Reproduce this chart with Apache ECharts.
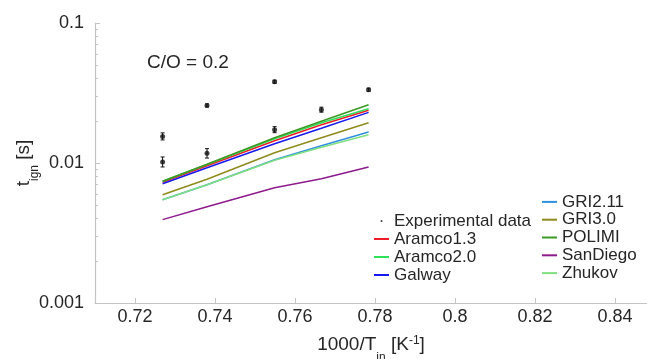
<!DOCTYPE html>
<html>
<head>
<meta charset="utf-8">
<script src="https://cdn.jsdelivr.net/npm/echarts@6/dist/echarts.min.js"></script>
<style>
  html, body { margin: 0; padding: 0; background: #fff; }
  #chart { width: 647px; height: 359px; }
</style>
</head>
<body>
<div id="chart"></div>
<script>
// inlet temperatures 1000/T (K^-1) shared by all model curves
var xVals = [0.7269, 0.7380, 0.7549, 0.7666, 0.7784];

// ignition delay (s) per mechanism
var aramco13 = [0.00729, 0.00957, 0.01443, 0.01877, 0.02383];
var aramco20 = [0.00741, 0.00973, 0.01491, 0.01940, 0.02443];
var galway   = [0.00711, 0.00926, 0.01374, 0.01772, 0.02298];
var gri211   = [0.00547, 0.00700, 0.01056, 0.01329, 0.01665];
var gri30    = [0.00594, 0.00766, 0.01185, 0.01516, 0.01940];
var polimi   = [0.00741, 0.00980, 0.01516, 0.01989, 0.02609];
var sandiego = [0.00394, 0.00487, 0.00666, 0.00773, 0.00936];
var zhukov   = [0.00547, 0.00700, 0.01047, 0.01297, 0.01592];

// experiments
var expX  = [0.7269, 0.7269, 0.7380, 0.7380, 0.7549, 0.7549, 0.7666, 0.7784];
var expY  = [0.01549, 0.01017, 0.02579, 0.01172, 0.0381, 0.0173, 0.02404, 0.0334];
var expLo = [0.01462, 0.00937, 0.02516, 0.01085, 0.03717, 0.01647, 0.02307, 0.03259];
var expHi = [0.01641, 0.01104, 0.02643, 0.01266, 0.03905, 0.01818, 0.02505, 0.03424];

var xTicks = [0.72, 0.74, 0.76, 0.78, 0.8, 0.82, 0.84];
var yTicks = [0.001, 0.01, 0.1];
var yMinorTicks = [0.002, 0.003, 0.004, 0.005, 0.006, 0.007, 0.008, 0.009,
                   0.02, 0.03, 0.04, 0.05, 0.06, 0.07, 0.08, 0.09];

var font = 'Liberation Sans, Arial, Helvetica, sans-serif';
var txt = '#262626';
var axisGray = '#c4c4c4';

function pairs(ys) {
  return xVals.map(function (x, i) { return [x, ys[i]]; });
}

function model(name, ys, color) {
  return {
    name: name,
    type: 'line',
    data: pairs(ys),
    showSymbol: false,
    symbol: 'none',
    lineStyle: { color: color, width: 1.5 },
    itemStyle: { color: color },
    z: 3
  };
}

var legendBase = {
  orient: 'vertical',
  padding: 0,
  itemGap: 0,
  itemWidth: 15,
  itemHeight: 2,
  icon: 'rect',
  textStyle: { fontFamily: font, fontSize: 17, color: txt, lineHeight: 18 }
};

var option = {
  animation: false,
  title: {
    text: 'C/O = 0.2',
    left: 147,
    top: 53,
    padding: 0,
    textStyle: { fontFamily: font, fontSize: 19, fontWeight: 'normal', color: txt }
  },
  legend: [
    Object.assign({}, legendBase, {
      left: 374,
      top: 212,
      data: [
        { name: 'Experimental data', icon: 'circle' },
        'Aramco1.3', 'Aramco2.0', 'Galway'
      ]
    }),
    Object.assign({}, legendBase, {
      left: 542,
      top: 193,
      textStyle: { fontFamily: font, fontSize: 17, color: txt, lineHeight: 17.8 },
      data: ['GRI2.11', 'GRI3.0', 'POLIMI', 'SanDiego', 'Zhukov']
    })
  ],
  grid: {
    left: 95,
    right: 0,
    top: 23,
    bottom: 56,
    containLabel: false,
    outerBoundsMode: 'none'
  },
  xAxis: {
    type: 'value',
    min: 0.71,
    max: 0.848,
    name: '{a|1000/T}{sub|in}{a| [K}{sup|-1}{a|]}',
    nameLocation: 'middle',
    nameGap: 23,
    nameMoveOverlap: false,
    nameTextStyle: {
      fontFamily: font,
      color: txt,
      rich: {
        a: { fontFamily: font, fontSize: 19, color: txt, lineHeight: 38, verticalAlign: 'middle' },
        sub: { fontFamily: font, fontSize: 12, color: txt, lineHeight: 13, verticalAlign: 'bottom' },
        sup: { fontFamily: font, fontSize: 12, color: txt, lineHeight: 13, verticalAlign: 'top', padding: [9, 0, 0, 0] }
      }
    },
    axisLine: { lineStyle: { color: axisGray, width: 1.2 } },
    axisTick: { inside: true, length: 5, customValues: xTicks, lineStyle: { color: axisGray } },
    axisLabel: {
      customValues: xTicks,
      margin: 5,
      fontFamily: font,
      fontSize: 18,
      color: txt,
      formatter: function (v) { return String(+v.toFixed(2)); }
    },
    splitLine: { show: false }
  },
  yAxis: [
    {
      type: 'log',
      logBase: 10,
      min: 0.001,
      max: 0.1,
      name: '{a|t}{sub|ign}{a| [s]}',
      nameLocation: 'middle',
      nameRotate: 90,
      nameGap: 54,
      nameMoveOverlap: false,
      nameTextStyle: {
        fontFamily: font,
        color: txt,
        rich: {
          a: { fontFamily: font, fontSize: 19, color: txt, lineHeight: 34, verticalAlign: 'middle' },
          sub: { fontFamily: font, fontSize: 12, color: txt, lineHeight: 13, verticalAlign: 'bottom' }
        }
      },
      axisLine: { show: true, lineStyle: { color: axisGray, width: 1.2 } },
      axisTick: { show: true, inside: true, length: 5, customValues: yTicks, lineStyle: { color: axisGray } },
      axisLabel: {
        customValues: yTicks,
        margin: 11,
        fontFamily: font,
        fontSize: 18,
        color: txt,
        formatter: function (v) { return String(+(+v).toPrecision(3)); }
      },
      splitLine: { show: false },
      minorTick: { show: false }
    },
    {
      type: 'log',
      logBase: 10,
      min: 0.001,
      max: 0.1,
      position: 'left',
      offset: 0,
      axisLine: { show: false },
      axisTick: { show: true, inside: true, length: 3, customValues: yMinorTicks, lineStyle: { color: axisGray } },
      axisLabel: { show: false },
      splitLine: { show: false }
    }
  ],
  series: [
    model('Aramco1.3', aramco13, '#ee1c25'),
    model('Aramco2.0', aramco20, '#2ee05a'),
    model('Galway', galway, '#1818f0'),
    model('GRI2.11', gri211, '#2f8fe0'),
    model('GRI3.0', gri30, '#8f8a1c'),
    model('POLIMI', polimi, '#3a9a24'),
    model('SanDiego', sandiego, '#8e1a8e'),
    model('Zhukov', zhukov, '#80e080'),
    {
      name: 'Experimental data',
      type: 'scatter',
      data: expX.map(function (x, i) { return [x, expY[i]]; }),
      symbol: 'circle',
      symbolSize: 5,
      itemStyle: { color: '#111' },
      z: 5
    },
    {
      name: 'errors',
      type: 'custom',
      data: expX.map(function (x, i) { return [x, expLo[i], expHi[i]]; }),
      encode: { x: 0, y: [1, 2] },
      z: 4,
      renderItem: function (params, api) {
        var lo = api.coord([api.value(0), api.value(1)]);
        var hi = api.coord([api.value(0), api.value(2)]);
        var w = 2;
        var st = { stroke: '#111', lineWidth: 1 };
        return {
          type: 'group',
          children: [
            { type: 'line', shape: { x1: lo[0], y1: lo[1], x2: hi[0], y2: hi[1] }, style: st },
            { type: 'line', shape: { x1: lo[0] - w, y1: lo[1], x2: lo[0] + w, y2: lo[1] }, style: st },
            { type: 'line', shape: { x1: hi[0] - w, y1: hi[1], x2: hi[0] + w, y2: hi[1] }, style: st }
          ]
        };
      }
    }
  ]
};

var chart = echarts.init(document.getElementById('chart'), null, { renderer: 'canvas' });
chart.setOption(option);
</script>
</body>
</html>
